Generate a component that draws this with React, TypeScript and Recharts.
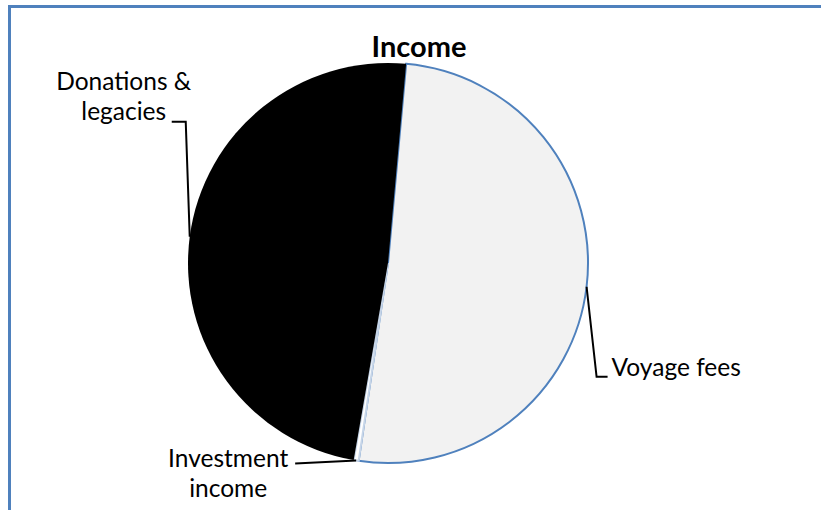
import { Cell, Pie, PieChart } from "recharts";

const CATEGORIES = ["Voyage fees", "Investment income", "Donations & legacies"];
const VALUES = [509, 4, 487];
const LABEL_LINES: string[][] = [["Voyage fees"], ["Investment", "income"], ["Donations &", "legacies"]];

const FILLS = ["#f2f2f2", "#ffffff", "#000000"];
const STROKES = ["#4f81bd", "#c6d5e8", "none"];

const FONT = "Lato, 'Open Sans', sans-serif";
const RADIAN = Math.PI / 180;

// leader geometry, as offsets from the point where the label meets the slice edge
const LEADERS: Record<string, { path: [number, number][]; anchor: "start" | "middle"; tx: number; ty: number[] }> = {
  "Voyage fees": { path: [[10, 90], [21, 90]], anchor: "start", tx: 25, ty: [89] },
  "Investment income": { path: [[-61, 3]], anchor: "middle", tx: -128, ty: [7, 37] },
  "Donations & legacies": { path: [[-4, -115], [-18, -115]], anchor: "middle", tx: -66, ty: [-147, -117] },
};

const data = CATEGORIES.map((name, i) => ({ name, value: VALUES[i] }));

function renderLabel(props: any) {
  const { cx, cy, midAngle, outerRadius, name, index } = props;
  const x0 = cx + outerRadius * Math.cos(-midAngle * RADIAN);
  const y0 = cy + outerRadius * Math.sin(-midAngle * RADIAN);
  const lay = LEADERS[name];
  const pts = [[x0, y0], ...lay.path.map(([dx, dy]) => [x0 + dx, y0 + dy])];
  return (
    <g key={name}>
      <polyline
        points={pts.map((p) => p.join(",")).join(" ")}
        fill="none"
        stroke="#000"
        strokeWidth={2}
      />
      {LABEL_LINES[index].map((line, li) => (
        <text
          key={line}
          x={x0 + lay.tx}
          y={y0 + lay.ty[li]}
          textAnchor={lay.anchor}
          fontFamily={FONT}
          fontSize={24.5}
          fill="#000"
        >
          {line}
        </text>
      ))}
    </g>
  );
}

export default function App() {
  return (
    <div style={{ position: "fixed", left: 0, top: 0, width: 821, height: 510, background: "#fff", overflow: "hidden" }}>
      <div
        style={{
          position: "absolute",
          left: 8,
          top: 5,
          width: 830,
          height: 520,
          borderLeft: "3px solid #4f81bd",
          borderTop: "3px solid #4f81bd",
        }}
      />
      <div
        style={{
          position: "absolute",
          left: 0,
          top: 28,
          width: 838,
          textAlign: "center",
          fontFamily: FONT,
          fontWeight: 700,
          fontSize: 29,
          color: "#000",
        }}
      >
        Income
      </div>
      <div style={{ position: "absolute", left: 0, top: 0 }}>
        <PieChart width={821} height={510} margin={{ top: 0, right: 0, bottom: 0, left: 0 }}>
          <Pie
            data={data}
            dataKey="value"
            nameKey="name"
            cx={388}
            cy={263}
            outerRadius={200}
            startAngle={84.8}
            endAngle={-275.2}
            label={renderLabel}
            labelLine={false}
            isAnimationActive={false}
          >
            {data.map((d, i) => (
              <Cell key={d.name} fill={FILLS[i]} stroke={STROKES[i]} strokeWidth={2} />
            ))}
          </Pie>
        </PieChart>
      </div>
    </div>
  );
}
